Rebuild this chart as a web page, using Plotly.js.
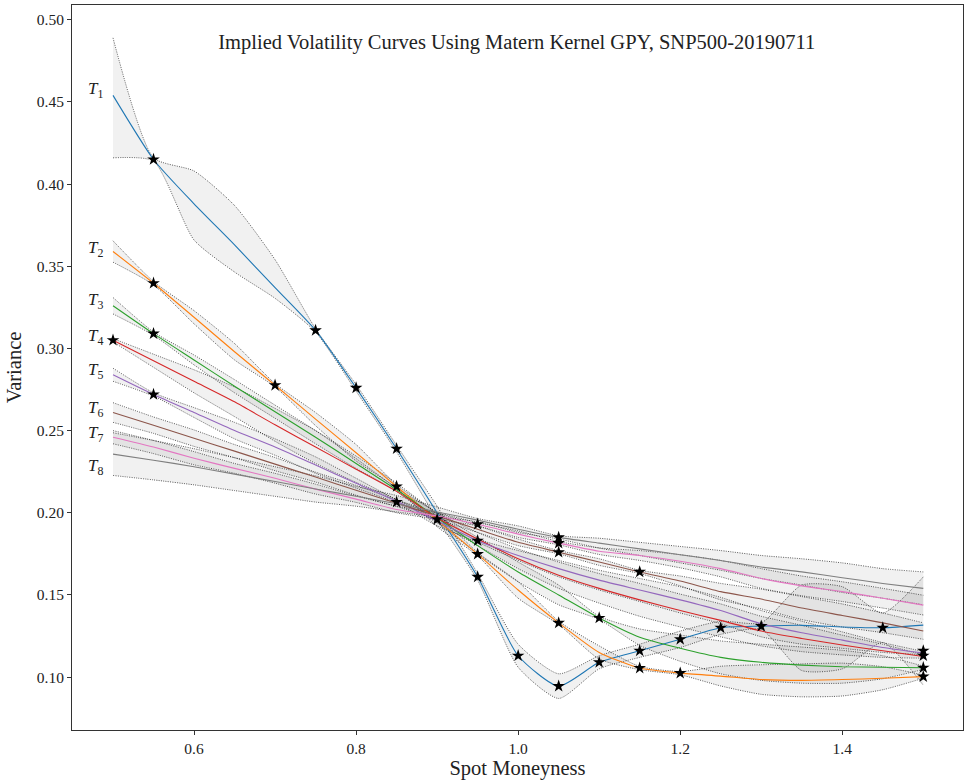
<!DOCTYPE html>
<html>
<head>
<meta charset="utf-8">
<script src="https://cdn.plot.ly/plotly-3.0.1.min.js"></script>
<style>html,body{margin:0;padding:0;background:#fff;}#chart{width:966px;height:783px;}</style>
</head>
<body>
<div id="chart"></div>
<script>
// Shared moneyness grid of the GP predictions
const moneyness = [0.50,0.55,0.60,0.65,0.70,0.75,0.80,0.85,0.90,0.95,1.00,1.05,1.10,1.15,1.20,1.25,1.30,1.35,1.40,1.45,1.50];

const labels = ["T1","T2","T3","T4","T5","T6","T7","T8"];

// Predicted means
const T1_mean = [0.454,0.415,0.388,0.363,0.337,0.311,0.276,0.239,0.200,0.161,0.113,0.0945,0.109,0.116,0.123,0.130,0.131,0.1315,0.1305,0.130,0.1316];
const T2_mean = [0.359,0.3397,0.319,0.298,0.2776,0.257,0.2365,0.216,0.1955,0.1748,0.153,0.133,0.115,0.1055,0.1024,0.1006,0.0985,0.098,0.0985,0.0993,0.1003];
const T3_mean = [0.326,0.309,0.293,0.277,0.2615,0.246,0.230,0.214,0.197,0.180,0.164,0.150,0.136,0.1243,0.1176,0.112,0.109,0.1073,0.1063,0.106,0.1057];
const T4_mean = [0.305,0.2925,0.280,0.2675,0.2535,0.240,0.2265,0.213,0.197,0.184,0.172,0.162,0.154,0.147,0.1405,0.1345,0.128,0.1235,0.1195,0.116,0.1125];
const T5_mean = [0.284,0.272,0.261,0.250,0.240,0.229,0.218,0.207,0.195,0.183,0.174,0.166,0.159,0.153,0.147,0.1405,0.1325,0.127,0.1225,0.118,0.1146];
const T6_mean = [0.261,0.2533,0.2454,0.2375,0.2296,0.2217,0.2137,0.2058,0.198,0.190,0.182,0.176,0.170,0.164,0.1585,0.152,0.1475,0.142,0.1375,0.133,0.128];
const T7_mean = [0.246,0.240,0.2332,0.227,0.221,0.2144,0.2083,0.202,0.198,0.193,0.187,0.1815,0.1766,0.174,0.1705,0.166,0.160,0.1555,0.152,0.148,0.1438];
const T8_mean = [0.2357,0.232,0.228,0.2235,0.219,0.2145,0.210,0.2055,0.2005,0.1955,0.190,0.185,0.1815,0.178,0.1745,0.171,0.167,0.164,0.1605,0.157,0.154];

// Confidence band edges
const T1_upper = [0.489,0.416,0.408,0.387,0.354,0.312,0.278,0.241,0.204,0.163,0.120,0.102,0.113,0.120,0.128,0.134,0.133,0.156,0.155,0.139,0.161];
const T1_lower = [0.416,0.414,0.366,0.3465,0.3305,0.310,0.274,0.237,0.196,0.159,0.106,0.087,0.105,0.112,0.118,0.126,0.129,0.104,0.105,0.121,0.095];
// Band half-widths for the other maturities
const T2_half = [0.0065,0.001,0.004,0.005,0.001,0.004,0.005,0.001,0.004,0.001,0.005,0.001,0.004,0.001,0.001,0.006,0.009,0.010,0.010,0.007,0.001];
const T3_half = [0.005,0.001,0.003,0.004,0.004,0.004,0.003,0.001,0.003,0.005,0.006,0.006,0.001,0.005,0.008,0.010,0.011,0.011,0.010,0.007,0.001];
const T4_half = [0.001,0.004,0.007,0.009,0.010,0.010,0.008,0.005,0.003,0.004,0.006,0.008,0.009,0.010,0.010,0.010,0.009,0.008,0.006,0.004,0.001];
const T5_half = [0.004,0.001,0.003,0.005,0.005,0.005,0.003,0.001,0.003,0.001,0.003,0.005,0.006,0.007,0.008,0.008,0.008,0.007,0.005,0.003,0.001];
const T6_half = [0.006,0.005,0.005,0.004,0.004,0.003,0.003,0.002,0.002,0.002,0.002,0.001,0.002,0.001,0.003,0.005,0.006,0.007,0.007,0.006,0.005];
const T7_half = [0.004,0.004,0.004,0.003,0.003,0.003,0.002,0.002,0.002,0.001,0.002,0.001,0.002,0.003,0.004,0.005,0.006,0.006,0.006,0.006,0.006];
const T8_half = [0.013,0.012,0.011,0.010,0.009,0.008,0.006,0.005,0.003,0.001,0.002,0.001,0.003,0.004,0.005,0.006,0.007,0.008,0.009,0.009,0.010];

// Observed market points (stars)
const T1_obsX = [0.55,0.75,0.80,0.85,0.95,1.00,1.05,1.10,1.15,1.20,1.25,1.30,1.45];
const T1_obsY = [0.415,0.311,0.276,0.239,0.161,0.113,0.0945,0.109,0.116,0.123,0.130,0.131,0.130];
const T2_obsX = [0.55,0.70,0.85,0.95,1.05,1.15,1.20,1.50];
const T2_obsY = [0.3397,0.2776,0.216,0.1748,0.133,0.1055,0.1024,0.1003];
const T3_obsX = [0.55,0.90,1.10,1.50];
const T3_obsY = [0.309,0.196,0.136,0.1057];
const T4_obsX = [0.50,1.50];
const T4_obsY = [0.305,0.113];
const T5_obsX = [0.55,0.85,0.95,1.50];
const T5_obsY = [0.272,0.2065,0.183,0.116];
const T6_obsX = [1.05,1.15];
const T6_obsY = [0.176,0.164];
const T7_obsX = [1.05];
const T7_obsY = [0.1815];
const T8_obsX = [0.95,1.05];
const T8_obsY = [0.193,0.185];

const colors = ["#1f77b4","#ff7f0e","#2ca02c","#d62728","#9467bd","#8c564b","#e377c2","#7f7f7f"];

const means = [T1_mean,T2_mean,T3_mean,T4_mean,T5_mean,T6_mean,T7_mean,T8_mean];
const halves = [null,T2_half,T3_half,T4_half,T5_half,T6_half,T7_half,T8_half];
const obsX = [T1_obsX,T2_obsX,T3_obsX,T4_obsX,T5_obsX,T6_obsX,T7_obsX,T8_obsX];
const obsY = [T1_obsY,T2_obsY,T3_obsY,T4_obsY,T5_obsY,T6_obsY,T7_obsY,T8_obsY];

const traces = [];
const edge = {color:"rgba(0,0,0,0.8)", width:0.8, dash:"1px,1.3px", shape:"spline", smoothing:0.6};
for (let i = 0; i < 8; i++) {
  let up, lo;
  if (i === 0) { up = T1_upper; lo = T1_lower; }
  else { up = means[i].map((m,k)=>m+halves[i][k]); lo = means[i].map((m,k)=>m-halves[i][k]); }
  traces.push({x:moneyness, y:lo, mode:"lines", line:edge, hoverinfo:"skip", showlegend:false});
  traces.push({x:moneyness, y:up, mode:"lines", line:edge, fill:"tonexty", fillcolor:"rgba(0,0,0,0.055)", hoverinfo:"skip", showlegend:false});
}
for (let i = 0; i < 8; i++) {
  traces.push({x:moneyness, y:means[i], mode:"lines", name:labels[i],
    line:{color:colors[i], width:1.1, shape:"spline", smoothing:0.6}, showlegend:false});
}
for (let i = 0; i < 8; i++) {
  traces.push({x:obsX[i], y:obsY[i], mode:"markers", marker:{symbol:"star", size:9.5, color:"#000"}, showlegend:false});
}

const labelY = [0.457,0.3603,0.3287,0.3068,0.2861,0.263,0.2478,0.2277];
const annotations = labels.map((l,i)=>({
  x:0.478, y:labelY[i], xref:"x", yref:"y", showarrow:false,
  text:"<i>T</i><sub>"+l.slice(1)+"</sub>",
  font:{family:"Liberation Serif, serif", size:17, color:"#222"}
}));

const axisCommon = {showline:true, mirror:true, linecolor:"#333", linewidth:1, showgrid:false, zeroline:false,
  ticks:"outside", ticklen:4, tickcolor:"#333", tickfont:{family:"Liberation Serif, serif", size:15.5, color:"#222"}};

const layout = {
  width:966, height:783,
  margin:{l:72, r:3, t:5, b:53},
  paper_bgcolor:"#fff", plot_bgcolor:"#fff",
  title:{text:"Implied Volatility Curves Using Matern Kernel GPY, SNP500-20190711",
    font:{family:"Liberation Serif, serif", size:20.5, color:"#222"},
    x:0.535, xanchor:"center", y:0.947, yanchor:"middle", yref:"container"},
  xaxis:Object.assign({}, axisCommon, {range:[0.4494,1.549], tickvals:[0.6,0.8,1.0,1.2,1.4], ticktext:["0.6","0.8","1.0","1.2","1.4"],
    title:{text:"Spot Moneyness", font:{family:"Liberation Serif, serif", size:20.5, color:"#222"}, standoff:5}}),
  yaxis:Object.assign({}, axisCommon, {range:[0.0678,0.509], dtick:0.05, tick0:0, tickformat:".2f",
    title:{text:"Variance", font:{family:"Liberation Serif, serif", size:20.5, color:"#222"}, standoff:9}}),
  annotations:annotations
};

Plotly.newPlot("chart", traces, layout, {displayModeBar:false, staticPlot:true});
</script>
</body>
</html>
